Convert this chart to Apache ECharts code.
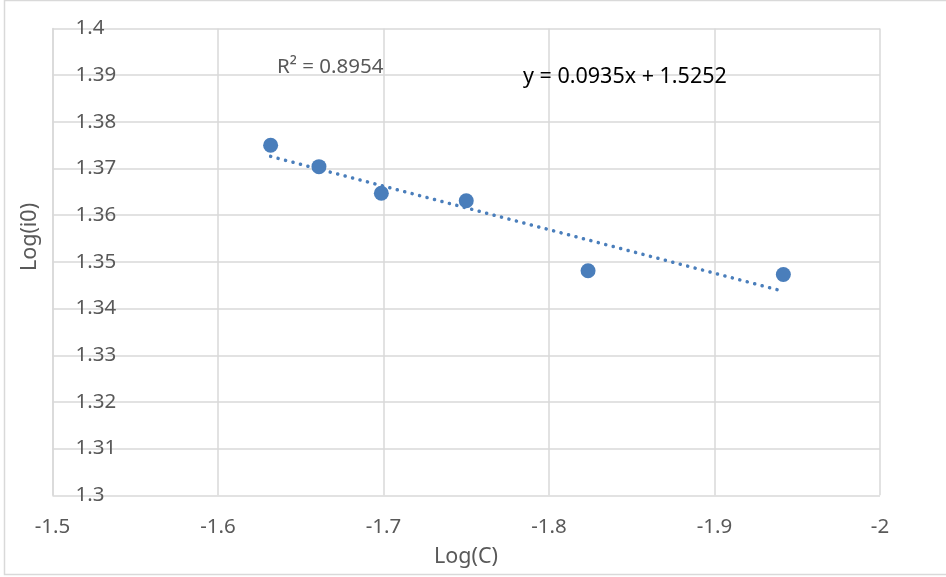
<!DOCTYPE html>
<html>
<head>
<meta charset="utf-8">
<script src="https://cdn.jsdelivr.net/npm/echarts@6/dist/echarts.min.js"></script>
<style>
html,body{margin:0;padding:0;background:#fff;}
#chart{width:946px;height:577px;}
</style>
</head>
<body>
<div id="chart"></div>
<script>
// Data
const logC = [-1.6318, -1.6610, -1.6987, -1.7500, -1.8236, -1.9416];
const logI0 = [1.3750, 1.3704, 1.3647, 1.3631, 1.3481, 1.3473];
// Linear trendline endpoints (as drawn in the reference)
const trendX = [-1.6318, -1.9416];
const trendY = [1.3726, 1.3437];
const xTicks = { min: -2, max: -1.5, interval: 0.1 };
const yTicks = { min: 1.3, max: 1.4, interval: 0.01 };
const eqText = 'y = 0.0935x + 1.5252';
const r2Text = 'R² = 0.8954';
const xTitle = 'Log(C)';
const yTitle = 'Log(i0)';

const FONT = 'Noto Sans';
const GRID = '#d9d9d9';
const TXT = '#595959';
const BLUE = '#4a7ebb';

const chart = echarts.init(document.getElementById('chart'), null, { renderer: 'canvas' });
chart.setOption({
  animation: false,
  backgroundColor: '#fff',
  grid: { left: 52.5, right: 66, top: 28.5, bottom: 81.7, containLabel: false },
  xAxis: {
    type: 'value', inverse: true,
    min: xTicks.min, max: xTicks.max, interval: xTicks.interval,
    axisLine: { show: false },
    axisTick: { show: false },
    splitLine: { show: true, lineStyle: { color: GRID, width: 1.5 } },
    axisLabel: {
      color: TXT, fontFamily: FONT, fontSize: 20.5, margin: 21,
      formatter: v => String(+(+v).toFixed(1))
    }
  },
  yAxis: {
    type: 'value',
    min: yTicks.min, max: yTicks.max, interval: yTicks.interval,
    axisLine: { show: true, lineStyle: { color: GRID, width: 1.5 } },
    axisTick: { show: false },
    splitLine: { show: true, lineStyle: { color: GRID, width: 1.5 } },
    axisLabel: {
      inside: true, color: TXT, fontFamily: FONT, fontSize: 20.5, margin: 23,
      formatter: v => String(+(+v).toFixed(2))
    }
  },
  series: [
    {
      type: 'line', z: 2,
      data: trendX.map((x, i) => [x, trendY[i]]),
      showSymbol: false, symbol: 'none',
      lineStyle: { color: BLUE, width: 3.5, type: [0.1, 7.6], cap: 'round' },
      silent: true
    },
    {
      type: 'scatter', z: 3,
      data: logC.map((x, i) => [x, logI0[i]]),
      symbol: 'circle', symbolSize: 15,
      itemStyle: { color: BLUE, opacity: 1 }
    }
  ],
  graphic: [
    { type: 'rect', z: -10, silent: true,
      shape: { x: 4.5, y: 0.5, width: 1000, height: 574 },
      style: { fill: 'none', stroke: GRID, lineWidth: 1.5 } },
    { type: 'text', z: 100, x: 277, y: 67, silent: true,
      style: { text: r2Text, fill: TXT, font: '20.5px "Noto Sans"', textAlign: 'left', textVerticalAlign: 'middle' } },
    { type: 'text', z: 100, x: 523, y: 77, silent: true,
      style: { text: eqText, fill: '#000', font: '21.5px "Noto Sans"', textAlign: 'left', textVerticalAlign: 'middle' } },
    { type: 'text', z: 100, x: 466, y: 557, silent: true,
      style: { text: xTitle, fill: TXT, font: '21.5px "Noto Sans"', textAlign: 'center', textVerticalAlign: 'middle' } },
    { type: 'text', z: 100, x: 30, y: 237, rotation: Math.PI / 2, silent: true,
      style: { text: yTitle, fill: TXT, font: '21.5px "Noto Sans"', textAlign: 'center', textVerticalAlign: 'middle' } }
  ]
});
</script>
</body>
</html>
